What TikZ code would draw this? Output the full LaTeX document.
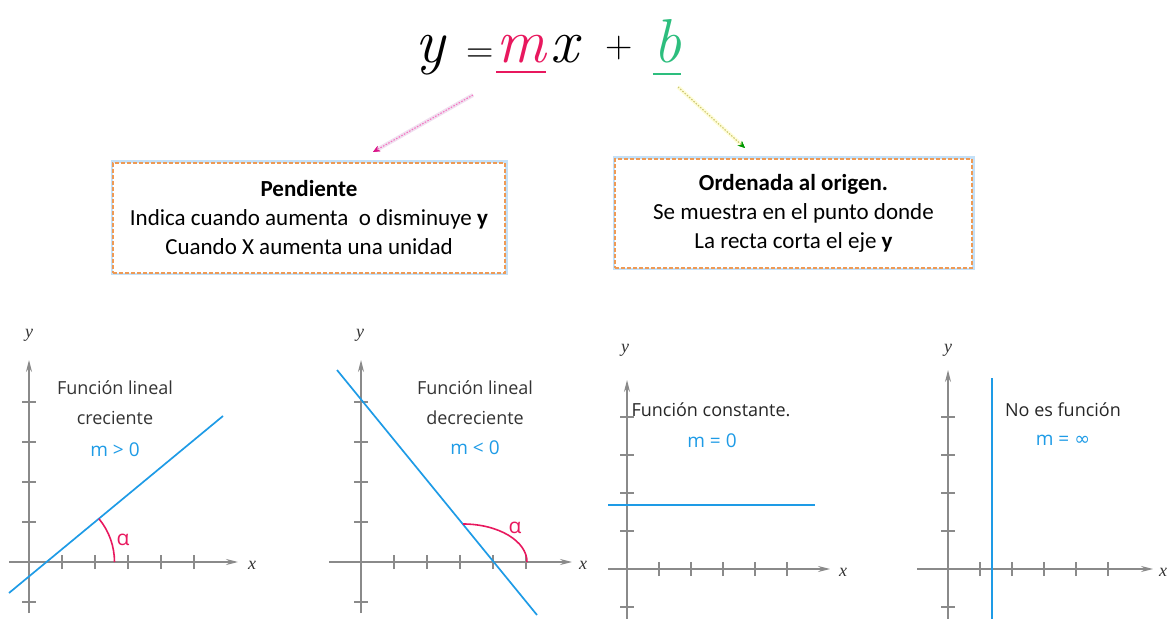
\documentclass[tikz,border=0pt]{standalone}
\usepackage{fontspec}
\setmainfont{Carlito}
\newfontfamily\graphfont{Open Sans}
\newfontfamily\axisfont{Liberation Serif}
\newfontfamily\eqfont{Latin Modern Roman}
\newfontfamily\symfont{DejaVu Sans}
\usetikzlibrary{arrows.meta}
\definecolor{mred}{HTML}{E8185E}
\definecolor{bgreen}{HTML}{2DBE7E}
\definecolor{lineblue}{HTML}{1E9BE6}
\definecolor{axisgray}{HTML}{8A8A8A}
\definecolor{txtgray}{HTML}{333333}
\definecolor{boxorange}{HTML}{EE9A55}
\definecolor{boxblue}{HTML}{C4E0F7}
\tikzset{
  infobox/.style={draw=boxorange,dash pattern=on 4pt off 2pt,line width=1.2pt,fill=white,
    preaction={draw=boxblue,solid,line width=5pt},
    align=center,inner sep=0pt,font=\fontsize{23}{29}\selectfont},
  axis/.style={axisgray,line width=1.3pt},
  axtick/.style={axisgray,line width=1.1pt},
  recta/.style={lineblue,line width=1.7pt},
  glabel/.style={font=\graphfont\fontsize{18}{30}\selectfont,text=txtgray,align=center},
  mlabel/.style={font=\graphfont\fontsize{19}{20}\selectfont,text=lineblue},
  alabel/.style={text=mred,font=\graphfont\fontsize{21}{21}\selectfont},
  axlabel/.style={font=\axisfont\itshape\fontsize{18}{18}\selectfont,text=txtgray},
  eq/.style={font=\eqfont\itshape\fontsize{62}{62}\selectfont,anchor=base,inner sep=0pt},
  eqop/.style={font=\eqfont\fontsize{38}{38}\selectfont,anchor=base,inner sep=0pt},
}
\begin{document}
\begin{tikzpicture}[x=1pt,y=1pt,>={Stealth[length=12pt,width=6pt]}]
\useasboundingbox (0,0) rectangle (1174,618);

% ecuacion
\node[eq] (eqy) at (430,555) {y};
\node[eqop] (eqeq) at (480,555) {=};
\node[eq,text=mred] (eqm) at (521,555) {m};
\node[eq] (eqx) at (564,555) {x};
\node[eqop] (eqplus) at (619,560) {+};
\node[eq,text=bgreen] (eqb) at (667,555) {b};
\draw[mred,line width=2.2pt] ([yshift=-9pt]eqm.base west) -- ([yshift=-9pt]eqm.base east);
\draw[bgreen,line width=2.2pt] ([yshift=-11pt]eqb.base west) -- ([yshift=-11pt]eqb.base east);

% cuadros
\node[infobox,minimum width=392pt,minimum height=110pt] (pend) at (309,400)
  {\textbf{Pendiente}\\Indica cuando aumenta\ \ o disminuye \textbf{y}\\Cuando X aumenta una unidad};
\node[infobox,minimum width=357pt,minimum height=109pt] (orden) at (793.5,404.5)
  {\textbf{Ordenada al origen.}\\Se muestra en el punto donde\\La recta corta el eje \textbf{y}};

\coordinate (mtail) at (473,523);
\coordinate (mhead) at (373,466);
\coordinate (btail) at (678,531);
\coordinate (bhead) at (745,470);
\draw[-{Stealth[length=7pt,width=6pt,color=magenta!80!violet]},magenta!55,line width=1.1pt,
  dash pattern=on 1.5pt off 1.5pt,preaction={draw=violet!12,line width=4pt,solid}] (mtail) -- (mhead);
\draw[-{Stealth[length=7pt,width=6pt,color=green!60!black]},olive!45,line width=1.1pt,
  dash pattern=on 1.5pt off 1.5pt,preaction={draw=yellow!15,line width=4pt,solid}] (btail) -- (bhead);

% creciente
\begin{scope}[shift={(29,56)}]
\draw[axis,->](-20,0)--(209,0);
\draw[axis,->](0,-51)--(0,202);
\foreach \x in {1,...,5}
{
    \draw[axtick](33*\x,-7)--(33*\x,7);
}
\foreach \y in {-1,1,2,3,4}
{
    \draw[axtick](-7,40*\y)--(7,40*\y);
}
\node[axlabel] (x1) at (223,-3) {x};
\node[axlabel] (y1) at (0,227) {y};
\draw[recta](-20,-31)--(194,146);
\draw[mred,line width=1.6pt](85.5,0) arc[start angle=0,end angle=39.6,radius=68];
\node[alabel] (a1) at (94,22) {α};
\node[glabel] (t1) at (86,159) {Función lineal\\creciente};
\node[mlabel] (m1) at (86,112) {m > 0};
\end{scope}

% decreciente
\begin{scope}[shift={(361,56)}]
\draw[axis,->](-32,0)--(211,0);
\draw[axis,->](0,-51)--(0,202);
\foreach \x in {1,...,5}
{
    \draw[axtick](33*\x,-7)--(33*\x,7);
}
\foreach \y in {-1,1,2,3,4}
{
    \draw[axtick](-7,40*\y)--(7,40*\y);
}
\node[axlabel] (x2) at (222,-3) {x};
\node[axlabel] (y2) at (-1,227) {y};
\draw[recta](-24,192)--(176,-53);
\draw[mred,line width=1.6pt](166,0) arc[start angle=0,end angle=90,x radius=64,y radius=38];
\node[alabel] (a2) at (154,34) {α};
\node[glabel] (t2) at (114,159) {Función lineal\\decreciente};
\node[mlabel] (m2) at (114,114) {m < 0};
\end{scope}

% constante
\begin{scope}[shift={(627,49)}]
\draw[axis,->](-19,0)--(203,0);
\draw[axis,->](0,-50)--(0,189);
\foreach \x in {1,...,5}
{
    \draw[axtick](32*\x,-7)--(32*\x,7);
}
\foreach \y in {-1,1,2,3,4}
{
    \draw[axtick](-7,38*\y)--(7,38*\y);
}
\node[axlabel] (x3) at (216,-3) {x};
\node[axlabel] (y3) at (-2,219) {y};
\draw[recta](-19,64)--(188,64);
\node[glabel,text=black!85] (t3) at (84,159) {Función constante.};
\node[mlabel] (m3) at (85,128) {m = 0};
\end{scope}

% no es funcion
\begin{scope}[shift={(948,49)}]
\draw[axis,->](-31,0)--(205,0);
\draw[axis,->](0,-50)--(0,199);
\foreach \x in {1,...,5}
{
    \draw[axtick](32*\x,-7)--(32*\x,7);
}
\foreach \y in {-1,1,2,3,4}
{
    \draw[axtick](-7,38*\y)--(7,38*\y);
}
\node[axlabel] (x4) at (215,-3) {x};
\node[axlabel] (y4) at (0,219) {y};
\draw[recta](44,-50)--(44,191);
\node[glabel,text=black!85] (t4) at (115,159) {No es función};
\node[mlabel] (m4) at (115,129) {m = {\symfont ∞}};
\end{scope}
\end{tikzpicture}
\end{document}
